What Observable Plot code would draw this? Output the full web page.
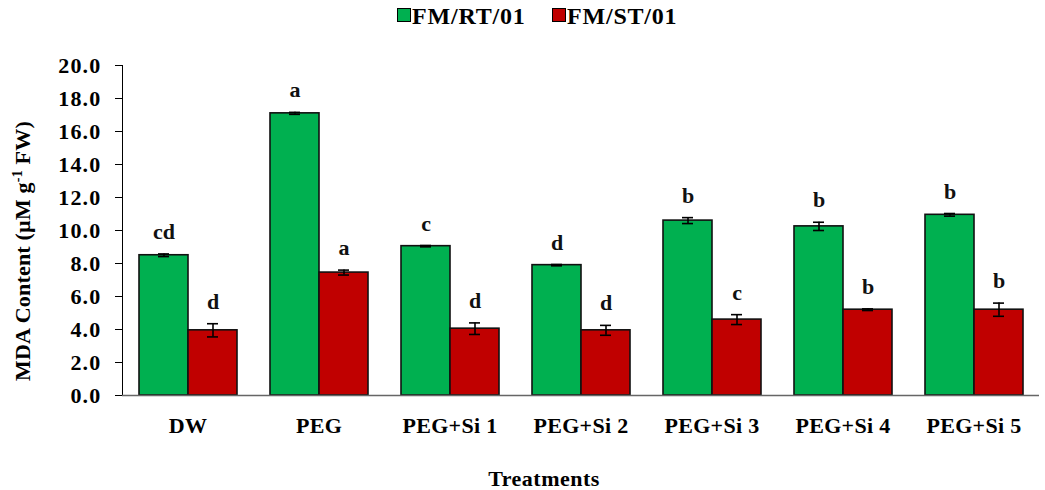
<!DOCTYPE html>
<html><head><meta charset="utf-8">
<script src="https://cdn.jsdelivr.net/npm/d3@7"></script>
<script src="https://cdn.jsdelivr.net/npm/@observablehq/plot@0.6"></script>
<style>
body{margin:0;background:#fff;font-family:"Liberation Serif","Times New Roman",serif;}
#legend{height:35px;position:relative;font-weight:bold;font-size:24px;}
#legend div{position:absolute;top:2px;white-space:nowrap;line-height:28px;letter-spacing:0.8px}
#legend span.sw{display:inline-block;width:12px;height:12px;border:1px solid #000;margin-right:1px;vertical-align:2px}
#chart svg [aria-label="y-axis tick label"]{font-size:22px;letter-spacing:1.2px}
#chart svg [aria-label="fx-axis tick label"]{font-size:22px;letter-spacing:0.3px}
</style></head>
<body>
<div id="legend"></div>
<div id="chart"></div>
<script>
const treatments = ["DW","PEG","PEG+Si 1","PEG+Si 2","PEG+Si 3","PEG+Si 4","PEG+Si 5"];
const series = ["FM/RT/01","FM/ST/01"];
const colors = ["#00B050","#C00000"];
const rtValues = [8.5, 17.1, 9.05, 7.9, 10.6, 10.25, 10.95];
const rtErrors = [0.08, 0.06, 0.04, 0.04, 0.18, 0.25, 0.08];
const rtLetters = ["cd","a","c","d","b","b","b"];
const stValues = [3.95, 7.45, 4.05, 3.95, 4.6, 5.2, 5.2];
const stErrors = [0.4, 0.15, 0.35, 0.3, 0.3, 0.05, 0.4];
const stLetters = ["d","a","d","d","c","b","b"];
const yTicks = [0,2,4,6,8,10,12,14,16,18,20];

const data = [];
treatments.forEach((t,i)=>{
  data.push({treatment:t, series:series[0], value:rtValues[i], err:rtErrors[i], letter:rtLetters[i]});
  data.push({treatment:t, series:series[1], value:stValues[i], err:stErrors[i], letter:stLetters[i]});
});

const leg = document.getElementById("legend");
const legLeft = [397, 552];
series.forEach((s,i)=>{
  const d = document.createElement("div");
  d.style.left = legLeft[i] + "px";
  d.innerHTML = `<span class="sw" style="background:${colors[i]}"></span>${s}`;
  leg.appendChild(d);
});

const font = `"Liberation Serif","Times New Roman",serif`;
const plot = Plot.plot({
  width: 1045, height: 455,
  marginLeft: 121, marginRight: 5, marginTop: 30, marginBottom: 95,
  style: {fontFamily: font, fontWeight: "bold", fontSize: "22px", color: "#000", background: "#fff"},
  fx: {domain: treatments, padding: 0, label: null, tickSize: 0, tickPadding: 22, axis: "bottom"},
  x: {domain: series, paddingInner: 0, paddingOuter: 0.335, axis: null},
  y: {domain: [0,20], ticks: yTicks, tickFormat: d3.format(".1f"), label: null, line: true, tickSize: 7, tickPadding: 14},
  color: {domain: series, range: colors},
  marks: [
    Plot.barY(data, {fx:"treatment", x:"series", y:"value", fill:"series", stroke:"#111", strokeWidth:1.6}),
    Plot.ruleX(data, {fx:"treatment", x:"series", y1: d=>d.value-d.err, y2: d=>d.value+d.err, stroke:"#000", strokeWidth:1.6}),
    Plot.tickY(data, {fx:"treatment", x:"series", y: d=>d.value+d.err, stroke:"#000", strokeWidth:1.6, inset:19}),
    Plot.tickY(data, {fx:"treatment", x:"series", y: d=>d.value-d.err, stroke:"#000", strokeWidth:1.6, inset:19}),
    Plot.text(data, {fx:"treatment", x:"series", y: d=>d.value+d.err, text:"letter", dy:-22, fontSize:22, fontWeight:"bold", fill:"#111"}),
    Plot.ruleY([0], {stroke:"#666", strokeWidth:1.6})
  ]
});
document.getElementById("chart").appendChild(plot);

const svg = d3.select(plot);
const yl = svg.append("text")
  .attr("transform", "translate(30,216) rotate(-90)")
  .attr("text-anchor","middle").attr("font-family", font).attr("font-weight","bold").attr("font-size","22px")
  .attr("letter-spacing","0.2px").attr("fill","#000");
yl.append("tspan").text("MDA Content (µM g");
yl.append("tspan").attr("dy","-8").attr("font-size","14px").text("-1");
yl.append("tspan").attr("dy","8").text(" FW)");
svg.append("text").attr("x", 544).attr("y", 451).attr("text-anchor","middle")
  .attr("font-family", font).attr("font-weight","bold").attr("font-size","22px").attr("letter-spacing","0.5px")
  .attr("fill","#000").text("Treatments");
</script>
</body></html>
